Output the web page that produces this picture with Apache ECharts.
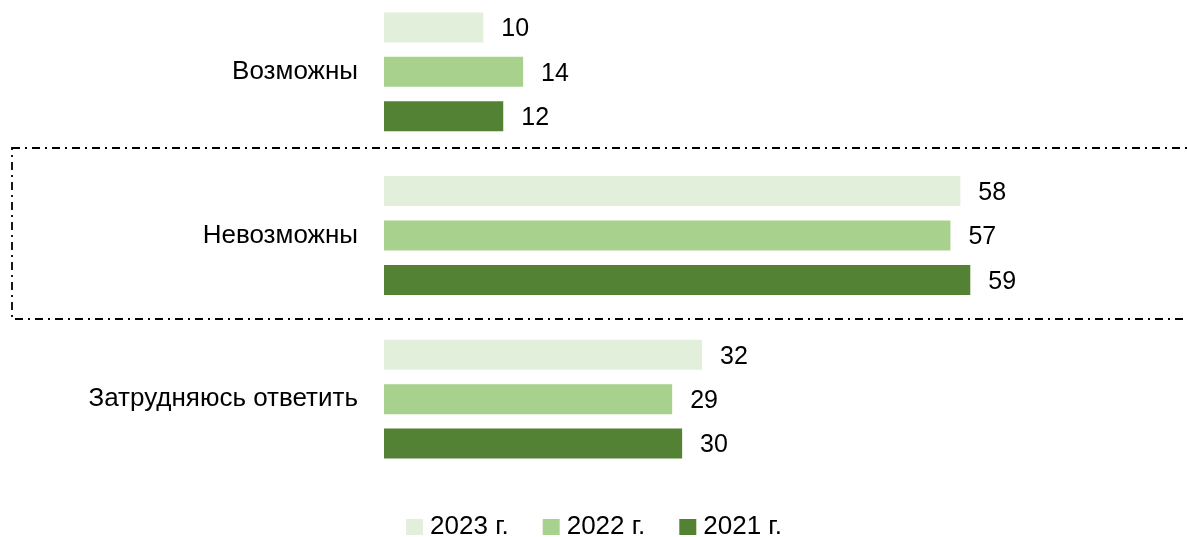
<!DOCTYPE html>
<html>
<head>
<meta charset="utf-8">
<script src="https://cdn.jsdelivr.net/npm/echarts@6/dist/echarts.min.js"></script>
<style>html,body{margin:0;padding:0;background:#fff;overflow:hidden}#c{position:absolute;left:0;top:-10px;width:1188px;height:547px}</style>
</head>
<body>
<div id="c"></div>
<script>
const categories = ['Возможны', 'Невозможны', 'Затрудняюсь ответить'];
const seriesNames = ['2023 г.', '2022 г.', '2021 г.'];
const values2023 = [10, 58, 32];
const values2022 = [14, 57, 29];
const values2021 = [12, 59, 30];
const colors = ['#E2EFDA', '#A9D18E', '#548235'];

const FONT = '"Liberation Sans", Arial, sans-serif';
const OFF = 10; // div is shifted up by this many px
const chart = echarts.init(document.getElementById('c'));
const dataSets = [values2023, values2022, values2021];

chart.setOption({
  animation: false,
  backgroundColor: '#fff',
  textStyle: { fontFamily: FONT },
  grid: { left: 384, right: 12, top: 0, bottom: 56, containLabel: false },
  xAxis: { type: 'value', min: 0, max: 79.7, show: false },
  yAxis: {
    type: 'category', data: categories, inverse: true,
    axisLine: { show: false }, axisTick: { show: false },
    axisLabel: { margin: 26, fontSize: 26, color: '#000', fontFamily: FONT, padding: [5, 0, 0, 0] }
  },
  legend: {
    top: 509 + OFF, left: 'center', itemWidth: 17, itemHeight: 16, itemGap: 34,
    icon: 'rect',
    textStyle: { fontSize: 26, color: '#000', fontFamily: FONT, padding: [0, 0, 0, 2] },
    data: seriesNames
  },
  graphic: [{
    type: 'rect', z: -1, silent: true,
    shape: { x: 12, y: 148 + OFF, width: 1220, height: 171 },
    style: { fill: 'none', stroke: '#000', lineWidth: 1.8, lineDash: [8, 5, 2, 5] }
  }],
  series: seriesNames.map((n, i) => ({
    name: n, type: 'bar', data: dataSets[i], barWidth: 30, barGap: '48%',
    itemStyle: { color: colors[i] },
    label: { show: true, position: 'right', distance: 18, offset: [0, 2], fontSize: 25, color: '#000', fontFamily: FONT }
  }))
});
</script>
</body>
</html>
